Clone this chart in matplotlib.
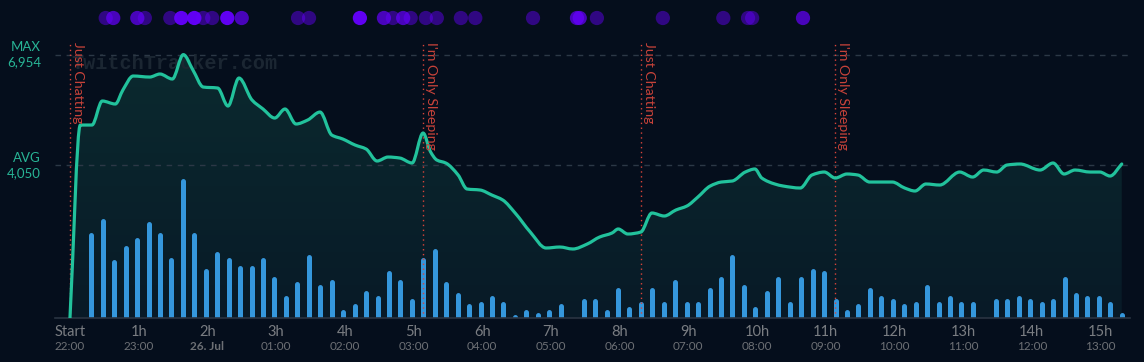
import numpy as np
import matplotlib
matplotlib.use("Agg")
import matplotlib.pyplot as plt
import matplotlib.transforms as mtransforms
from matplotlib.path import Path
from matplotlib.patches import PathPatch

plt.rcParams['font.family'] = ['Lato', 'DejaVu Sans']

# viewers over the stream (hours since start, viewers)
view_t = [0.0, 0.15, 0.32, 0.47, 0.66, 0.77, 0.92, 1.16, 1.31, 1.49, 1.65, 1.79, 1.94,
          2.15, 2.30, 2.46, 2.65, 2.81, 2.98, 3.13, 3.29, 3.46, 3.64, 3.81, 3.97, 4.15,
          4.31, 4.47, 4.63, 4.80, 4.98, 5.14, 5.25, 5.34, 5.47, 5.65, 5.78, 5.97, 6.14,
          6.30, 6.48, 6.70, 6.93, 7.13, 7.32, 7.53, 7.71, 7.89, 7.98, 8.12, 8.31, 8.47,
          8.65, 8.82, 8.98, 9.14, 9.32, 9.48, 9.64, 9.83, 9.97, 10.07, 10.26, 10.38,
          10.63, 10.80, 10.98, 11.14, 11.31, 11.47, 11.64, 11.97, 12.15, 12.30, 12.46,
          12.66, 12.95, 13.14, 13.30, 13.49, 13.64, 13.83, 14.12, 14.31, 14.47, 14.63,
          14.85, 14.99, 15.14, 15.31]
viewers = [0, 5095, 5095, 5729, 5650, 6019, 6389, 6362, 6442, 6310, 6954, 6547, 6098,
           6072, 5597, 6336, 5755, 5518, 5280, 5518, 5122, 5227, 5438, 4831, 4726, 4567,
           4462, 4145, 4250, 4224, 4092, 4884, 4382, 4171, 4092, 3775, 3406, 3379, 3247,
           3115, 2772, 2270, 1848, 1874, 1822, 1954, 2138, 2244, 2350, 2218, 2270, 2772,
           2693, 2851, 2957, 3194, 3485, 3590, 3617, 3854, 3934, 3696, 3538, 3485,
           3432, 3775, 3854, 3696, 3802, 3775, 3590, 3590, 3432, 3353, 3538,
           3511, 3854, 3722, 3907, 3854, 4039, 4066, 3907, 4092, 3802, 3907,
           3854, 3854, 3749, 4066]

# chat activity bars, one every 10 minutes
bar_start = 0.31
bar_vals = [86, 100, 59, 73, 81, 97, 86, 61, 140, 86,
            50, 67, 61, 53, 53, 61, 42, 23, 37, 64,
            34, 39, 9, 15, 28, 23, 48, 39, 20, 61,
            70, 37, 26, 15, 17, 23, 17, 4, 9, 6,
            9, 15, 0, 20, 20, 9, 31, 12, 17, 31,
            17, 39, 17, 17, 31, 42, 64, 34, 12, 28,
            42, 17, 42, 50, 48, 20, 9, 15, 31, 23,
            20, 15, 17, 34, 17, 23, 17, 17, 1, 20,
            20, 23, 20, 17, 20, 42, 26, 23, 23, 17, 6]

# game changes
game_t = [0.0, 5.14, 8.31, 11.14]
game_names = ["Just Chatting", "I'm Only Sleeping", "Just Chatting", "I'm Only Sleeping"]

# events shown as dots on top (hours, intensity)
dot_t = [0.52, 0.63, 0.98, 1.09, 1.46, 1.62, 1.81, 1.94, 2.07, 2.29, 2.50, 3.32, 3.48,
         4.22, 4.57, 4.70, 4.85, 4.96, 5.18, 5.34, 5.69, 5.90, 6.74, 7.38, 7.42, 7.67,
         8.63, 9.51, 9.87, 9.93, 10.67]
dot_level = [1, 2, 2, 1, 1, 3, 3, 1, 1, 3, 2, 1, 1,
             3, 2, 1, 2, 1, 1, 1, 1, 1, 1, 2, 2, 1,
             1, 1, 1, 1, 2]

max_v = 6954
avg_v = 4050

hour_ticks = list(range(16))
hour_labels = ["Start"] + [f"{h}h" for h in range(1, 16)]
clock_labels = ["22:00", "23:00", "26. Jul", "01:00", "02:00", "03:00", "04:00", "05:00",
                "06:00", "07:00", "08:00", "09:00", "10:00", "11:00", "12:00", "13:00"]

BG = '#050e1c'
TEAL = '#22c29c'
RED = '#d9443a'


def smooth_path(xs, ys):
    # monotone cubic Bezier path through the data points (no overshoot)
    xs = np.asarray(xs, float)
    ys = np.asarray(ys, float)
    n = len(xs)
    dx = np.diff(xs)
    d = np.diff(ys) / dx
    m = np.zeros(n)
    m[0], m[-1] = d[0], d[-1]
    for i in range(1, n - 1):
        if d[i - 1] * d[i] > 0:
            w1 = 2 * dx[i] + dx[i - 1]
            w2 = dx[i] + 2 * dx[i - 1]
            m[i] = (w1 + w2) / (w1 / d[i - 1] + w2 / d[i])
    verts = [(xs[0], ys[0])]
    codes = [Path.MOVETO]
    for i in range(n - 1):
        h = dx[i] / 3
        verts += [(xs[i] + h, ys[i] + h * m[i]),
                  (xs[i + 1] - h, ys[i + 1] - h * m[i + 1]),
                  (xs[i + 1], ys[i + 1])]
        codes += [Path.CURVE4] * 3
    return verts, codes


W, H = 1144, 362
rect = [55 / W, 1 - 318 / H, (1130 - 55) / W, (318 - 40) / H]
fig = plt.figure(figsize=(W / 100, H / 100), dpi=100, facecolor=BG)

# bottom layer: fill, grid, watermark
ax = fig.add_axes(rect)
ax.set_facecolor(BG)
ax.set_xlim(-0.218, 15.43)
ax.set_ylim(0, 7340)
ax.axis('off')

line_verts, line_codes = smooth_path(view_t, viewers)
fill_verts = line_verts + [(view_t[-1], 0), (view_t[0], 0), (view_t[0], 0)]
fill_codes = line_codes + [Path.LINETO, Path.LINETO, Path.CLOSEPOLY]

grad = np.linspace(0, 1, 256).reshape(-1, 1)
cmap = matplotlib.colors.LinearSegmentedColormap.from_list('g', ['#081a27', '#0b2a2f'])
im = ax.imshow(grad, aspect='auto', cmap=cmap, origin='lower',
               extent=[view_t[0], view_t[-1], 0, max_v], zorder=1)
clip = PathPatch(Path(fill_verts, fill_codes), transform=ax.transData,
                 facecolor='none', edgecolor='none')
ax.add_patch(clip)
im.set_clip_path(clip)
ax.set_xlim(-0.218, 15.43)
ax.set_ylim(0, 7340)

for v in (max_v, avg_v):
    ax.axhline(v, color='#2c3846', lw=1, ls=(0, (4, 4)), zorder=2)

ax.text(0.02, 6730, "TwitchTracker.com", family='Liberation Mono', fontweight='bold',
        fontsize=14.5, color='#1b2632', va='center', ha='left', zorder=1.5)

# middle layer: chat bars
ax2 = fig.add_axes(rect, sharex=ax)
ax2.set_ylim(0, 278)
ax2.axis('off')
bar_t = [bar_start + i / 6 for i in range(len(bar_vals))]
bt = [t for t, v in zip(bar_t, bar_vals) if v > 0]
bv = [max(v - 2.5, 0.5) for v in bar_vals if v > 0]
ax2.vlines(bt, 0, bv, colors='#3597dc', linewidth=3.6, capstyle='round', zorder=3)

# top layer: viewer line, markers, labels
ax3 = fig.add_axes(rect, sharex=ax, sharey=ax)
ax3.axis('off')
ax3.axhline(0, color='#2a3442', lw=1.2, zorder=5, clip_on=False)
ax3.add_patch(PathPatch(Path(line_verts, line_codes), facecolor='none', edgecolor=TEAL,
                        lw=2.3, zorder=6, joinstyle='round', capstyle='round'))

for t, name in zip(game_t, game_names):
    ax3.plot([t, t], [0, 7260], color=RED, lw=1, ls=(0, (1, 2.5)), zorder=4)
    ax3.text(t + 0.03, 7280, name, rotation=-90, ha='left', va='top', color='#c8433a',
             fontsize=10.2, zorder=7)

alpha_map = {1: 0.45, 2: 0.7, 3: 0.95}
tr = mtransforms.blended_transform_factory(ax3.transData, ax3.transAxes)
for t, lvl in zip(dot_t, dot_level):
    ax3.scatter([t], [(318 - 18) / 278], s=105, color='#6600ff', alpha=alpha_map[lvl],
                edgecolors='none', transform=tr, clip_on=False, zorder=8)

trx = mtransforms.blended_transform_factory(ax3.transData, fig.transFigure)
for t, hl, cl in zip(hour_ticks, hour_labels, clock_labels):
    ax3.text(t, 1 - 332 / H, hl, transform=trx, ha='center', va='center',
             fontsize=10.5, color='#7a7d82')
    ax3.text(t, 1 - 346 / H, cl, transform=trx, ha='center', va='center',
             fontsize=8.5, color='#6d7075',
             fontweight='bold' if cl == "26. Jul" else 'normal')

ax.set_xlim(-0.218, 15.43)

# max / avg labels
for label, v, y in (("MAX", max_v, 47), ("AVG", avg_v, 158)):
    fig.text(41 / W, 1 - y / H, label, ha='right', va='center', fontsize=9.5, color='#28b596')
    fig.text(41 / W, 1 - (y + 15) / H, f"{v:,}", ha='right', va='center', fontsize=9.5,
             color='#28b596')

fig.savefig("out.png", dpi=100, facecolor=BG)
